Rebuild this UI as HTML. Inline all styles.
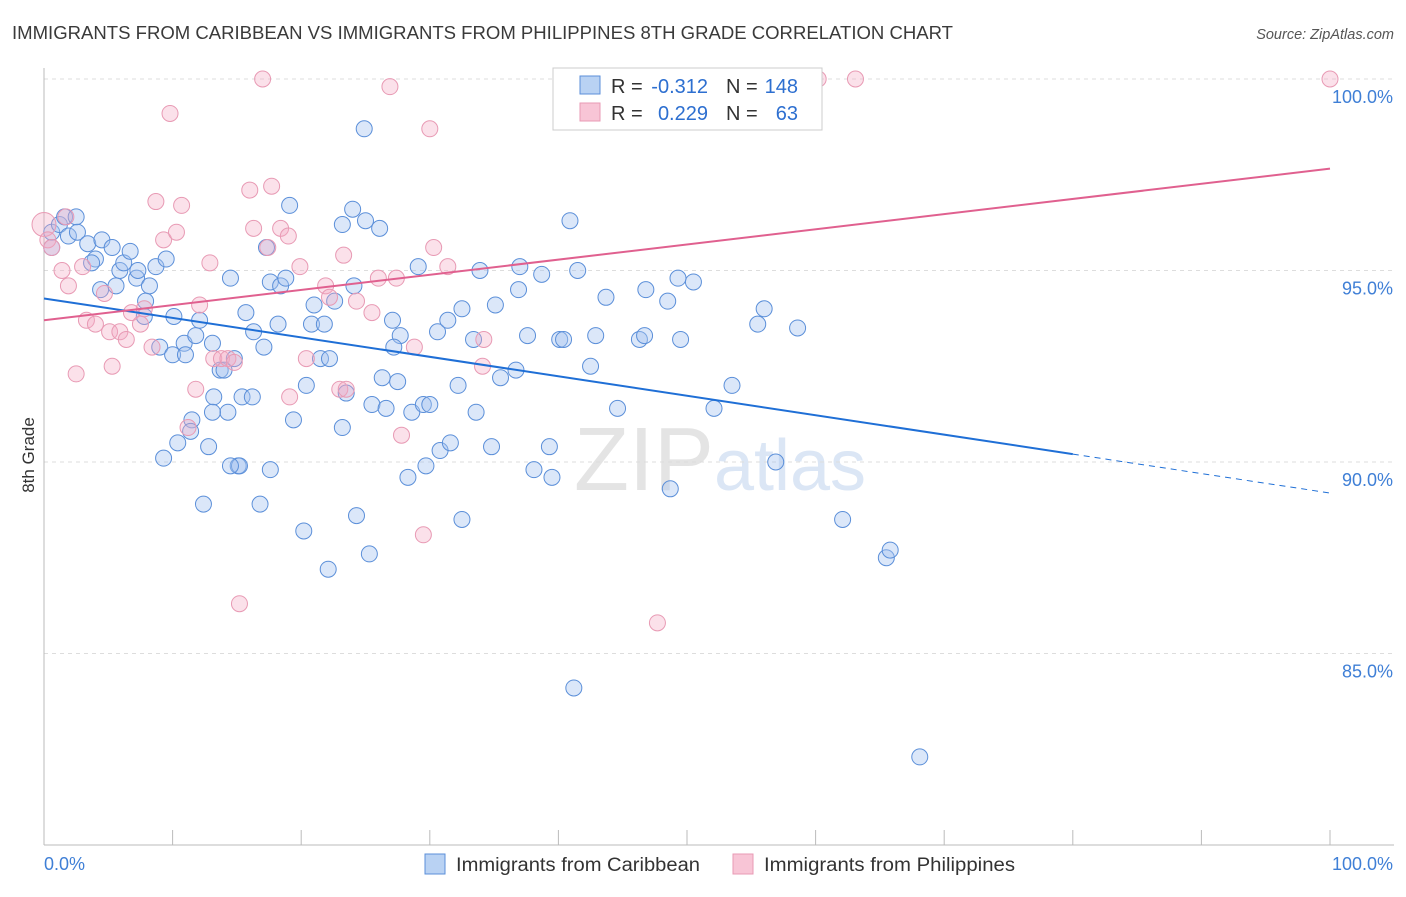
<!DOCTYPE html>
<html><head><meta charset="utf-8"><style>
body{margin:0;background:#fff;font-family:"Liberation Sans",sans-serif;}
svg text{font-family:"Liberation Sans",sans-serif;}
</style></head><body>
<svg id="chart" width="1406" height="892" xmlns="http://www.w3.org/2000/svg">
<text x="12" y="39" font-size="18.4" fill="#3a3a3a" textLength="941" lengthAdjust="spacingAndGlyphs">IMMIGRANTS FROM CARIBBEAN VS IMMIGRANTS FROM PHILIPPINES 8TH GRADE CORRELATION CHART</text>
<text x="1394" y="39" font-size="14.5" fill="#555" text-anchor="end" font-style="italic">Source: ZipAtlas.com</text>
<text x="720" y="490" font-size="90" fill="#e4e4e4" text-anchor="middle" font-family="Liberation Serif"><tspan>ZIP</tspan><tspan fill="#dbe6f5" font-family="Liberation Sans" font-size="72">atlas</tspan></text>
<g id="grid"></g>
<g id="axes"></g>
<g id="pts"></g>
<g id="lines"></g>
<text transform="translate(34,455) rotate(-90)" font-size="17" fill="#333" text-anchor="middle">8th Grade</text>
<g font-size="20">
<rect x="553" y="68" width="269" height="62" fill="#fff" stroke="#ccc"/>
<rect x="580" y="76" width="20" height="18" fill="#b9d2f3" stroke="#5b8fd9"/>
<rect x="580" y="103" width="20" height="18" fill="#f8c5d6" stroke="#e89ab4"/>
<text x="611" y="93" fill="#333">R =</text>
<text x="708" y="93" fill="#2d6fd0" text-anchor="end">-0.312</text>
<text x="726" y="93" fill="#333">N =</text>
<text x="798" y="93" fill="#2d6fd0" text-anchor="end">148</text>
<text x="611" y="120" fill="#333">R =</text>
<text x="708" y="120" fill="#2d6fd0" text-anchor="end">0.229</text>
<text x="726" y="120" fill="#333">N =</text>
<text x="798" y="120" fill="#2d6fd0" text-anchor="end">63</text>
</g>
<g>
<rect x="425" y="854" width="20" height="20" fill="#b9d2f3" stroke="#5b8fd9"/>
<text x="456" y="871" font-size="19" fill="#333" textLength="244" lengthAdjust="spacingAndGlyphs">Immigrants from Caribbean</text>
<rect x="733" y="854" width="20" height="20" fill="#f8c5d6" stroke="#e89ab4"/>
<text x="764" y="871" font-size="19" fill="#333" textLength="251" lengthAdjust="spacingAndGlyphs">Immigrants from Philippines</text>
</g>
</svg>
<script>
const yTicks=[100,95,90,85];
const yTickLabels=["100.0%","95.0%","90.0%","85.0%"];
const xTickLabels=["0.0%","100.0%"];
const blueX=[0.6,1.2,1.6,2.5,1.9,2.6,3.4,0.6,4.0,3.7,4.5,5.3,4.4,5.6,5.9,6.2,6.7,7.2,7.3,8.2,7.9,7.8,8.7,9.5,10.1,10.9,9.0,10.0,11.0,11.8,12.1,13.1,13.7,14.0,14.8,13.2,14.3,13.1,11.5,11.4,10.4,12.8,9.3,12.4,15.1,15.4,16.2,15.7,16.3,17.1,14.5,17.3,17.6,18.4,18.8,19.1,18.2,19.4,20.4,20.8,21.0,21.5,22.2,21.8,22.6,23.2,24.0,25.0,26.1,24.1,24.9,23.2,23.5,25.5,26.6,26.3,27.5,27.1,27.7,27.2,29.1,30.6,31.4,32.5,32.2,33.4,33.6,33.9,35.1,37.0,36.9,37.6,36.7,35.5,28.6,29.5,30.0,30.8,31.6,29.7,28.3,32.5,34.8,38.1,39.3,39.5,40.1,40.4,38.7,40.9,41.5,42.5,42.9,43.7,44.6,46.3,46.7,46.8,48.5,49.3,49.5,50.5,48.7,52.1,53.5,52.4,55.5,56.0,56.9,58.6,62.1,65.5,65.8,68.1,41.2,16.8,20.2,22.1,24.3,25.3,15.2,17.6,14.5];
const blueY=[96.0,96.2,96.4,96.4,95.9,96.0,95.7,95.6,95.3,95.2,95.8,95.6,94.5,94.6,95.0,95.2,95.5,94.8,95.0,94.6,94.2,93.8,95.1,95.3,93.8,93.1,93.0,92.8,92.8,93.3,93.7,93.1,92.4,92.4,92.7,91.7,91.3,91.3,91.1,90.8,90.5,90.4,90.1,88.9,89.9,91.7,91.7,93.9,93.4,93.0,94.8,95.6,94.7,94.6,94.8,96.7,93.6,91.1,92.0,93.6,94.1,92.7,92.7,93.6,94.2,96.2,96.6,96.3,96.1,94.6,98.7,90.9,91.8,91.5,91.4,92.2,92.1,93.7,93.3,93.0,95.1,93.4,93.7,94.0,92.0,93.2,91.3,95.0,94.1,95.1,94.5,93.3,92.4,92.2,91.3,91.5,91.5,90.3,90.5,89.9,89.6,88.5,90.4,89.8,90.4,89.6,93.2,93.2,94.9,96.3,95.0,92.5,93.3,94.3,91.4,93.2,93.3,94.5,94.2,94.8,93.2,94.7,89.3,91.4,92.0,100.0,93.6,94.0,90.0,93.5,88.5,87.5,87.7,82.3,84.1,88.9,88.2,87.2,88.6,87.6,89.9,89.8,89.9];
const pinkX=[0,0.3,0.6,1.4,1.9,1.7,2.5,3.3,4.0,3.0,4.7,5.3,5.1,5.9,6.4,6.8,7.5,7.8,8.4,8.7,9.3,9.8,10.3,10.7,11.8,11.2,12.1,12.9,13.2,13.8,14.3,14.8,15.2,16.0,16.3,17.0,17.4,17.7,18.4,19.0,19.9,20.4,19.1,21.9,22.2,23.0,23.5,23.3,24.3,25.5,26.0,26.9,27.4,27.8,28.8,29.5,30.0,30.3,31.4,34.2,34.1,47.7,60.2,63.1,100];
const pinkY=[96.2,95.8,95.6,95.0,94.6,96.4,92.3,93.7,93.6,95.1,94.4,92.5,93.4,93.4,93.2,93.9,93.6,94.0,93.0,96.8,95.8,99.1,96.0,96.7,91.9,90.9,94.1,95.2,92.7,92.7,92.7,92.6,86.3,97.1,96.1,100.0,95.6,97.2,96.1,95.9,95.1,92.7,91.7,94.6,94.3,91.9,91.9,95.4,94.2,93.9,94.8,99.8,94.8,90.7,93.0,88.1,98.7,95.6,95.1,93.2,92.5,85.8,100,100,100];
const blueTrend=[94.27,89.19];
const pinkTrend=[93.70,97.66];
const NS="http://www.w3.org/2000/svg";
const X0=44,X1=1330,Y100=79,PPU=38.3;
function xs(v){return X0+(X1-X0)*v/100;}
function ys(v){return Y100+(100-v)*PPU;}
function mk(tag,attrs,parent){const e=document.createElementNS(NS,tag);for(const k in attrs)e.setAttribute(k,attrs[k]);document.getElementById(parent).appendChild(e);return e;}
yTicks.forEach((t,i)=>{
 const l=mk('line',{x1:X0,x2:1394,y1:ys(t),y2:ys(t),stroke:'#ddd','stroke-dasharray':'4,4'},'grid');
 
 
 const tx=mk('text',{x:1393,y:ys(t)+24,'font-size':18,fill:'#3f7fd6','text-anchor':'end'},'grid');
 tx.textContent=yTickLabels[i];
 
 
});
const ax=mk('line',{x1:X0,x2:1394,y1:845,y2:845,stroke:'#bbb'},'axes');


const ay=mk('line',{x1:X0,x2:X0,y1:68,y2:845,stroke:'#bbb'},'axes');


for(let i=0;i<=10;i++){
 const tk=mk('line',{x1:xs(i*10),x2:xs(i*10),y1:830,y2:845,stroke:'#bbb'},'axes');
 
 
}
const xl0=mk('text',{x:44,y:870,'font-size':18,fill:'#3f7fd6'},'axes');xl0.textContent=xTickLabels[0];


const xl1=mk('text',{x:1393,y:870,'font-size':18,fill:'#3f7fd6','text-anchor':'end'},'axes');xl1.textContent=xTickLabels[1];


blueX.forEach((v,i)=>{
 const c=mk('circle',{cx:xs(v),cy:ys(blueY[i]),r:8,fill:'rgba(164,196,240,0.4)',stroke:'#5b8fd9','stroke-width':1},'pts');
 
 
});
pinkX.forEach((v,i)=>{
 const c=mk('circle',{cx:xs(v),cy:ys(pinkY[i]),r:i===0?12:8,fill:'rgba(244,170,196,0.35)',stroke:'#e89ab4','stroke-width':1},'pts');
 
 
});
const bEnd=80;
const bMid=blueTrend[0]+(blueTrend[1]-blueTrend[0])*bEnd/100;
const bl=mk('line',{x1:xs(0),y1:ys(blueTrend[0]),x2:xs(bEnd),y2:ys(bMid),stroke:'#1f6fd6','stroke-width':2},'lines');


const bd=mk('line',{x1:xs(bEnd),y1:ys(bMid),x2:xs(100),y2:ys(blueTrend[1]),stroke:'#1f6fd6','stroke-width':1,'stroke-dasharray':'6,5'},'lines');


const pl=mk('line',{x1:xs(0),y1:ys(pinkTrend[0]),x2:xs(100),y2:ys(pinkTrend[1]),stroke:'#e0608f','stroke-width':2},'lines');


</script>
</body></html>
